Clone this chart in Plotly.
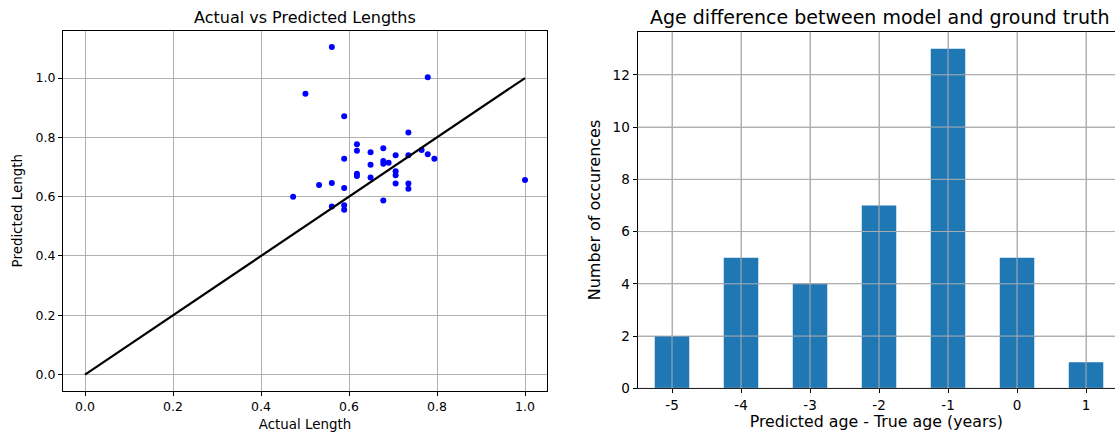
import plotly.graph_objects as go

# ---- Data: scatter (Actual vs Predicted Lengths) ----
actual_length = [0.561, 0.779, 0.501, 0.589, 0.735, 0.618, 0.618, 0.678, 0.649, 0.765,
                 0.779, 0.794, 0.706, 0.735, 0.589, 0.649, 0.678, 0.678, 0.690, 0.706,
                 0.706, 0.618, 0.618, 0.649, 0.706, 0.735, 0.735, 0.532, 0.561, 0.589,
                 0.473, 0.678, 0.561, 0.589, 0.589, 1.000]
predicted_length = [1.105, 1.003, 0.947, 0.871, 0.816, 0.777, 0.755, 0.763, 0.750, 0.757,
                    0.743, 0.728, 0.740, 0.740, 0.728, 0.708, 0.720, 0.711, 0.714, 0.686,
                    0.672, 0.677, 0.670, 0.665, 0.644, 0.644, 0.627, 0.639, 0.646, 0.629,
                    0.600, 0.587, 0.567, 0.571, 0.556, 0.656]
identity_line = [0.0, 1.0]
left_ticks = [0.0, 0.2, 0.4, 0.6, 0.8, 1.0]

# ---- Data: bar chart (age difference) ----
age_diff_labels = ["-5", "-4", "-3", "-2", "-1", "0", "1"]
occurrences = [2, 5, 4, 7, 13, 5, 1]
right_yticks = [0, 2, 4, 6, 8, 10, 12]

W, H = 1115, 434
FONT = "DejaVu Sans"
GRID = "#b0b0b0"

def px_x(p):
    return p / W

def px_y(p):
    return 1 - p / H

fig = go.Figure()

fig.add_trace(go.Scatter(
    x=actual_length, y=predicted_length, mode="markers",
    marker=dict(color="#0000ff", size=6, line=dict(width=0)),
    xaxis="x", yaxis="y", showlegend=False))
fig.add_trace(go.Scatter(
    x=identity_line, y=identity_line, mode="lines",
    line=dict(color="black", width=2.2),
    xaxis="x", yaxis="y", showlegend=False))

fig.add_trace(go.Bar(
    x=list(range(len(age_diff_labels))), y=occurrences, width=0.5,
    marker=dict(color="#1f77b4", line=dict(width=0)),
    xaxis="x2", yaxis="y2", showlegend=False))

shapes = []
for i in range(len(age_diff_labels)):
    shapes.append(dict(type="line", xref="x2", yref="y2 domain", x0=i, x1=i, y0=0, y1=1,
                       line=dict(color=GRID, width=1), layer="above"))
for v in right_yticks:
    shapes.append(dict(type="line", xref="x2 domain", yref="y2", x0=0, x1=1, y0=v, y1=v,
                       line=dict(color=GRID, width=1), layer="above"))

axis_common = dict(showline=True, linecolor="black", linewidth=1, ticks="outside",
                   ticklen=4, tickcolor="black", showgrid=True, gridcolor=GRID,
                   gridwidth=1, zeroline=False, automargin=False)

fig.update_layout(
    width=W, height=H, autosize=False,
    margin=dict(l=0, r=0, t=0, b=0, pad=0, autoexpand=False),
    paper_bgcolor="white", plot_bgcolor="white",
    font=dict(family=FONT, color="black"),
    shapes=shapes,
    showlegend=False,
    xaxis=dict(domain=[px_x(63), px_x(547)], range=[-0.05, 1.05], tickvals=left_ticks,
               tickformat=".1f", mirror=True, anchor="y",
               tickfont=dict(size=12.5),
               title=dict(text="Actual Length", font=dict(size=13.4), standoff=6),
               **axis_common),
    yaxis=dict(domain=[px_y(391), px_y(30.5)], range=[-0.0553, 1.1603], tickvals=left_ticks,
               tickformat=".1f", mirror=True, anchor="x",
               tickfont=dict(size=12.5),
               title=dict(text="Predicted Length", font=dict(size=13.4), standoff=9),
               **axis_common),
    xaxis2=dict(domain=[px_x(637.5), 1.0], range=[-0.5, 6.42],
                tickvals=list(range(len(age_diff_labels))), ticktext=age_diff_labels,
                mirror=True, anchor="y2", tickfont=dict(size=13.5),
                title=dict(text="Predicted age - True age (years)", font=dict(size=15.8), standoff=4),
                **axis_common),
    yaxis2=dict(domain=[px_y(388.3), px_y(31.7)], range=[0, 13.65], tickvals=right_yticks,
                mirror=False, anchor="x2", tickfont=dict(size=13.5),
                title=dict(text="Number of occurences", font=dict(size=16), standoff=8),
                **axis_common),
    annotations=[
        dict(text="Actual vs Predicted Lengths", x=(px_x(63) + px_x(547)) / 2, y=px_y(17),
             xref="paper", yref="paper", showarrow=False, xanchor="center", yanchor="middle",
             font=dict(size=16, family=FONT)),
        dict(text="Age difference between model and ground truth", x=px_x(879.5), y=px_y(17),
             xref="paper", yref="paper", showarrow=False, xanchor="center", yanchor="middle",
             font=dict(size=19, family=FONT)),
    ],
)

fig.write_html("out.html",
               config={"displayModeBar": False},
               post_script="document.body.style.margin='0';document.body.style.overflow='hidden';")
